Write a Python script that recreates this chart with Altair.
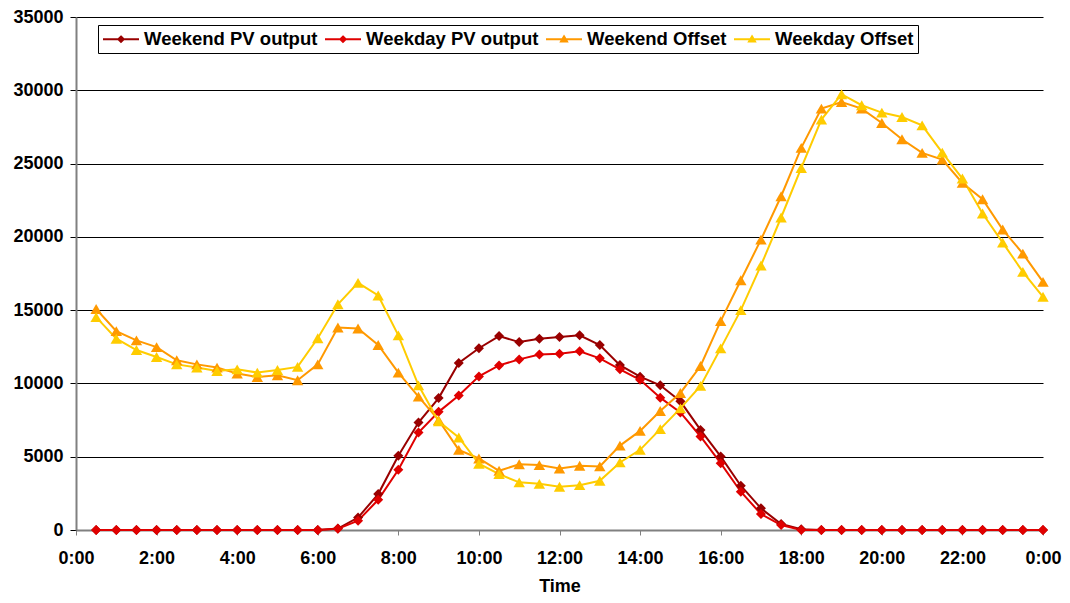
import altair as alt
import pandas as pd

# ---------------- data ----------------
series_names = ["Weekend PV output", "Weekday PV output", "Weekend Offset", "Weekday Offset"]
series_colors = ["#990000", "#E00000", "#FF9900", "#FFCC00"]

hours = [0.5, 1.0, 1.5, 2.0, 2.5, 3.0, 3.5, 4.0, 4.5, 5.0, 5.5, 6.0,
         6.5, 7.0, 7.5, 8.0, 8.5, 9.0, 9.5, 10.0, 10.5, 11.0, 11.5, 12.0,
         12.5, 13.0, 13.5, 14.0, 14.5, 15.0, 15.5, 16.0, 16.5, 17.0, 17.5, 18.0,
         18.5, 19.0, 19.5, 20.0, 20.5, 21.0, 21.5, 22.0, 22.5, 23.0, 23.5, 24.0]

weekend_pv = [0, 0, 0, 0, 0, 0, 0, 0, 0, 0, 0, 0,
              100, 850, 2450, 5060, 7330, 9000, 11400, 12400, 13230, 12820, 13050, 13160,
              13280, 12620, 11250, 10460, 9870, 8780, 6830, 5020, 3020, 1480, 410, 50,
              0, 0, 0, 0, 0, 0, 0, 0, 0, 0, 0, 0]

weekday_pv = [0, 0, 0, 0, 0, 0, 0, 0, 0, 0, 0, 0,
              80, 630, 2060, 4110, 6650, 8060, 9170, 10480, 11230, 11640, 11980, 12030,
              12190, 11710, 10960, 10250, 9030, 8020, 6380, 4560, 2610, 1090, 340, 0,
              0, 0, 0, 0, 0, 0, 0, 0, 0, 0, 0, 0]

weekend_offset = [15080, 13570, 12940, 12480, 11580, 11300, 11080, 10670, 10440, 10550, 10220, 11300,
                  13820, 13750, 12620, 10740, 9100, 7500, 5470, 4880, 4040, 4490, 4430, 4200,
                  4380, 4340, 5760, 6760, 8120, 9350, 11190, 14250, 17040, 19810, 22770, 26070,
                  28750, 29200, 28750, 27770, 26660, 25730, 25270, 23680, 22570, 20500, 18860, 16930]

weekday_offset = [14520, 13050, 12280, 11800, 11300, 11080, 10850, 10960, 10740, 10920, 11130, 13080,
                  15400, 16860, 16000, 13280, 9870, 7420, 6310, 4520, 3810, 3250, 3150, 2950,
                  3060, 3360, 4610, 5470, 6880, 8300, 9830, 12390, 15000, 18050, 21320, 24700,
                  28000, 29730, 28980, 28480, 28180, 27610, 25750, 23980, 21590, 19610, 17610, 15910]

x_tick_values = [0, 2, 4, 6, 8, 10, 12, 14, 16, 18, 20, 22, 24]
y_tick_values = [0, 5000, 10000, 15000, 20000, 25000, 30000, 35000]

# legend symbols: a short line with the marker in its middle
# (unit = half the symbol box; the line runs past the box to the right)
pv_symbol = "M-1,0L3,0M1,-0.3L1.3,0L1,0.3L0.7,0Z"
offset_symbol = "M-1,0L3,0M1,-0.32L1.33,0.24L0.67,0.24Z"
legend_symbols = [pv_symbol, pv_symbol, offset_symbol, offset_symbol]

# ---------------- table ----------------
rows = []
for name, vals in zip(series_names, [weekend_pv, weekday_pv, weekend_offset, weekday_offset]):
    for h, v in zip(hours, vals):
        rows.append({"hour": h, "value": v, "series": name})
df = pd.DataFrame(rows)

FONT = "Liberation Sans"

# visible layers: domain taken from the data (custom order) so that their
# disabled legend is not merged with the legend layer's one
color_scale = alt.Scale(range=series_colors)

x_enc = alt.X(
    "hour:Q",
    scale=alt.Scale(domain=[0, 24], nice=False, zero=False),
    axis=alt.Axis(
        values=x_tick_values,
        labelExpr="floor(datum.value % 24) + ':00'",
        title="Time",
        grid=False,
        domainColor="#808080",
        domainWidth=2,
        tickColor="#808080",
        tickSize=5,
        tickWidth=1,
        labelPadding=14,
        labelFont=FONT,
        labelFontSize=18,
        labelFontWeight="bold",
        labelColor="#000000",
        labelFlush=False,
        labelOverlap=False,
        titleFont=FONT,
        titleFontSize=18,
        titleFontWeight="bold",
        titleColor="#000000",
        titlePadding=10,
    ),
)
y_enc = alt.Y(
    "value:Q",
    scale=alt.Scale(domain=[0, 35000], nice=False),
    axis=alt.Axis(
        values=y_tick_values,
        format="d",
        title=None,
        grid=True,
        gridColor="#000000",
        gridWidth=1,
        domainColor="#808080",
        domainWidth=2,
        tickColor="#000000",
        tickSize=6,
        tickWidth=1,
        labelPadding=7,
        labelFont=FONT,
        labelFontSize=18,
        labelFontWeight="bold",
        labelColor="#000000",
        labelOverlap=False,
    ),
)

base = alt.Chart(df)

color_enc = alt.Color("series:N", sort=series_names, scale=color_scale, legend=None)

lines = base.mark_line(strokeWidth=2).encode(
    x=x_enc,
    y=y_enc,
    color=color_enc,
    order=alt.Order("hour:Q"),
)

diamonds = base.transform_filter(
    alt.FieldOneOfPredicate(field="series", oneOf=series_names[:2])
).mark_point(shape="diamond", filled=True, size=100, opacity=1).encode(
    x=x_enc,
    y=y_enc,
    color=color_enc,
)

triangles = base.transform_filter(
    alt.FieldOneOfPredicate(field="series", oneOf=series_names[2:])
).mark_point(shape="triangle-up", filled=True, size=130, opacity=1).encode(
    x=x_enc,
    y=y_enc,
    color=color_enc,
)

legend = alt.Legend(
    title=None,
    orient="none",
    legendX=22,
    legendY=8,
    direction="horizontal",
    columns=4,
    strokeColor="#000000",
    fillColor="#FFFFFF",
    padding=4,
    symbolSize=324,
    symbolStrokeWidth=2,
    symbolOpacity=1,
    labelFont=FONT,
    labelFontSize=18.5,
    labelFontWeight="bold",
    labelColor="#000000",
    labelOffset=22,
    columnPadding=3,
    labelLimit=400,
)

# invisible layer that only carries the legend (line + marker symbols)
legend_layer = base.mark_point(filled=True, strokeWidth=2, opacity=0).encode(
    x=x_enc,
    y=y_enc,
    fill=alt.Fill("series:N", scale=alt.Scale(domain=series_names, range=series_colors), legend=legend),
    stroke=alt.Stroke("series:N", scale=alt.Scale(domain=series_names, range=series_colors), legend=legend),
    shape=alt.Shape("series:N", scale=alt.Scale(domain=series_names, range=legend_symbols), legend=legend),
)

chart = (
    alt.layer(lines, diamonds, triangles, legend_layer)
    .properties(
        width=1054,
        height=587,
        autosize=alt.AutoSizeParams(type="fit", contains="padding"),
        padding={"left": 4, "top": 0, "right": 0, "bottom": 0},
        background="#FFFFFF",
    )
    .configure_view(strokeWidth=0)
)

chart.save("out.html", embed_options={"renderer": "svg", "actions": False})
